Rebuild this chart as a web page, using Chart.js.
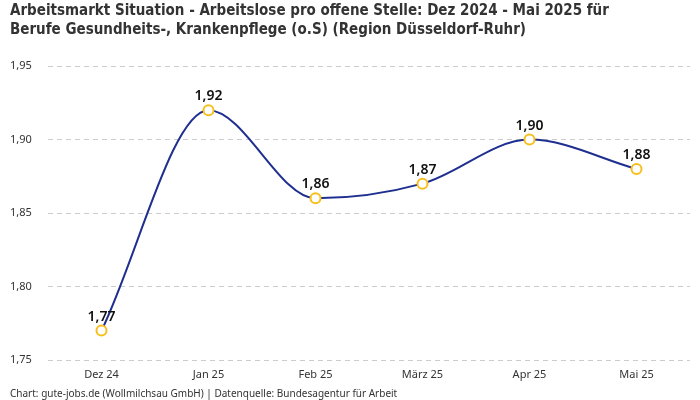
<!DOCTYPE html>
<html>
<head>
<meta charset="utf-8">
<title>Arbeitsmarkt Situation</title>
<script src="https://cdn.jsdelivr.net/npm/chart.js"></script>
<style>
html, body { margin: 0; padding: 0; background: #fff; }
#wrap { width: 700px; height: 400px; }
</style>
</head>
<body>
<div id="wrap"><canvas id="myChart"></canvas></div>
<script>
// Werte
const monate = ["Dez 24", "Jan 25", "Feb 25", "März 25", "Apr 25", "Mai 25"];
const werte = [1.77, 1.92, 1.86, 1.87, 1.90, 1.88];
const yTicks = [1.75, 1.80, 1.85, 1.90, 1.95];

const titelZeilen = [
  "Arbeitsmarkt Situation - Arbeitslose pro offene Stelle: Dez 2024 - Mai 2025 für",
  "Berufe Gesundheits-, Krankenpflege (o.S) (Region Düsseldorf-Ruhr)"
];
const quelle = "Chart: gute-jobs.de (Wollmilchsau GmbH) | Datenquelle: Bundesagentur für Arbeit";

function komma(v) {
  return v.toFixed(2).replace(".", ",");
}

// eigene Beschriftung über den Punkten
const wertLabels = {
  id: "wertLabels",
  afterDatasetsDraw(chart) {
    const ctx = chart.ctx;
    const meta = chart.getDatasetMeta(0);
    ctx.save();
    ctx.font = "600 14px 'Noto Sans', sans-serif";
    ctx.fillStyle = "#111";
    ctx.textAlign = "center";
    ctx.textBaseline = "bottom";
    meta.data.forEach(function (pt, i) {
      ctx.fillText(komma(werte[i]), pt.x, pt.y - 7);
    });
    ctx.restore();
  }
};

const data = {
  labels: monate,
  datasets: [{
    label: "Arbeitslose pro offene Stelle",
    data: werte,
    borderColor: "#1f2f8f",
    borderWidth: 2,
    cubicInterpolationMode: "monotone",
    pointRadius: 5,
    pointBorderWidth: 2,
    pointBackgroundColor: "#ffffff",
    pointBorderColor: "#f7bf1e",
    fill: false
  }]
};

const config = {
  type: "line",
  data: data,
  options: {
    responsive: true,
    maintainAspectRatio: false,
    animation: false,
    layout: { padding: { left: 10, right: 10, top: 0, bottom: 1 } },
    plugins: {
      legend: { display: false },
      tooltip: { enabled: false },
      title: {
        display: true,
        text: titelZeilen,
        align: "start",
        color: "#333",
        font: { family: "'DejaVu Sans Condensed', sans-serif", size: 15, weight: "bold", lineHeight: 1.27 },
        padding: { top: 2, bottom: 26 }
      },
      subtitle: {
        display: true,
        text: quelle,
        position: "bottom",
        align: "start",
        color: "#333",
        font: { family: "'Noto Sans', sans-serif", size: 10, lineHeight: 1 },
        padding: { top: 0, bottom: 0 }
      }
    },
    scales: {
      x: {
        offset: true,
        grid: { display: false, drawTicks: false },
        border: { display: false },
        ticks: {
          color: "#333",
          font: { family: "'Noto Sans', sans-serif", size: 11, lineHeight: 1 },
          padding: 9
        }
      },
      y: {
        min: 1.75,
        max: 1.95,
        afterBuildTicks(axis) {
          axis.ticks = yTicks.map(v => ({ value: v }));
        },
        afterFit(axis) {
          axis.width = 38;
        },
        grid: {
          color: "#cccccc",
          drawTicks: false
        },
        border: { display: false, dash: [5, 4] },
        ticks: {
          color: "#333",
          crossAlign: "far",
          font: { family: "'Noto Sans', sans-serif", size: 11 },
          padding: 14,
          callback: function (v) { return komma(v); }
        }
      }
    }
  },
  plugins: [wertLabels]
};

const myChart = new Chart(document.getElementById("myChart"), config);
</script>
</body>
</html>
